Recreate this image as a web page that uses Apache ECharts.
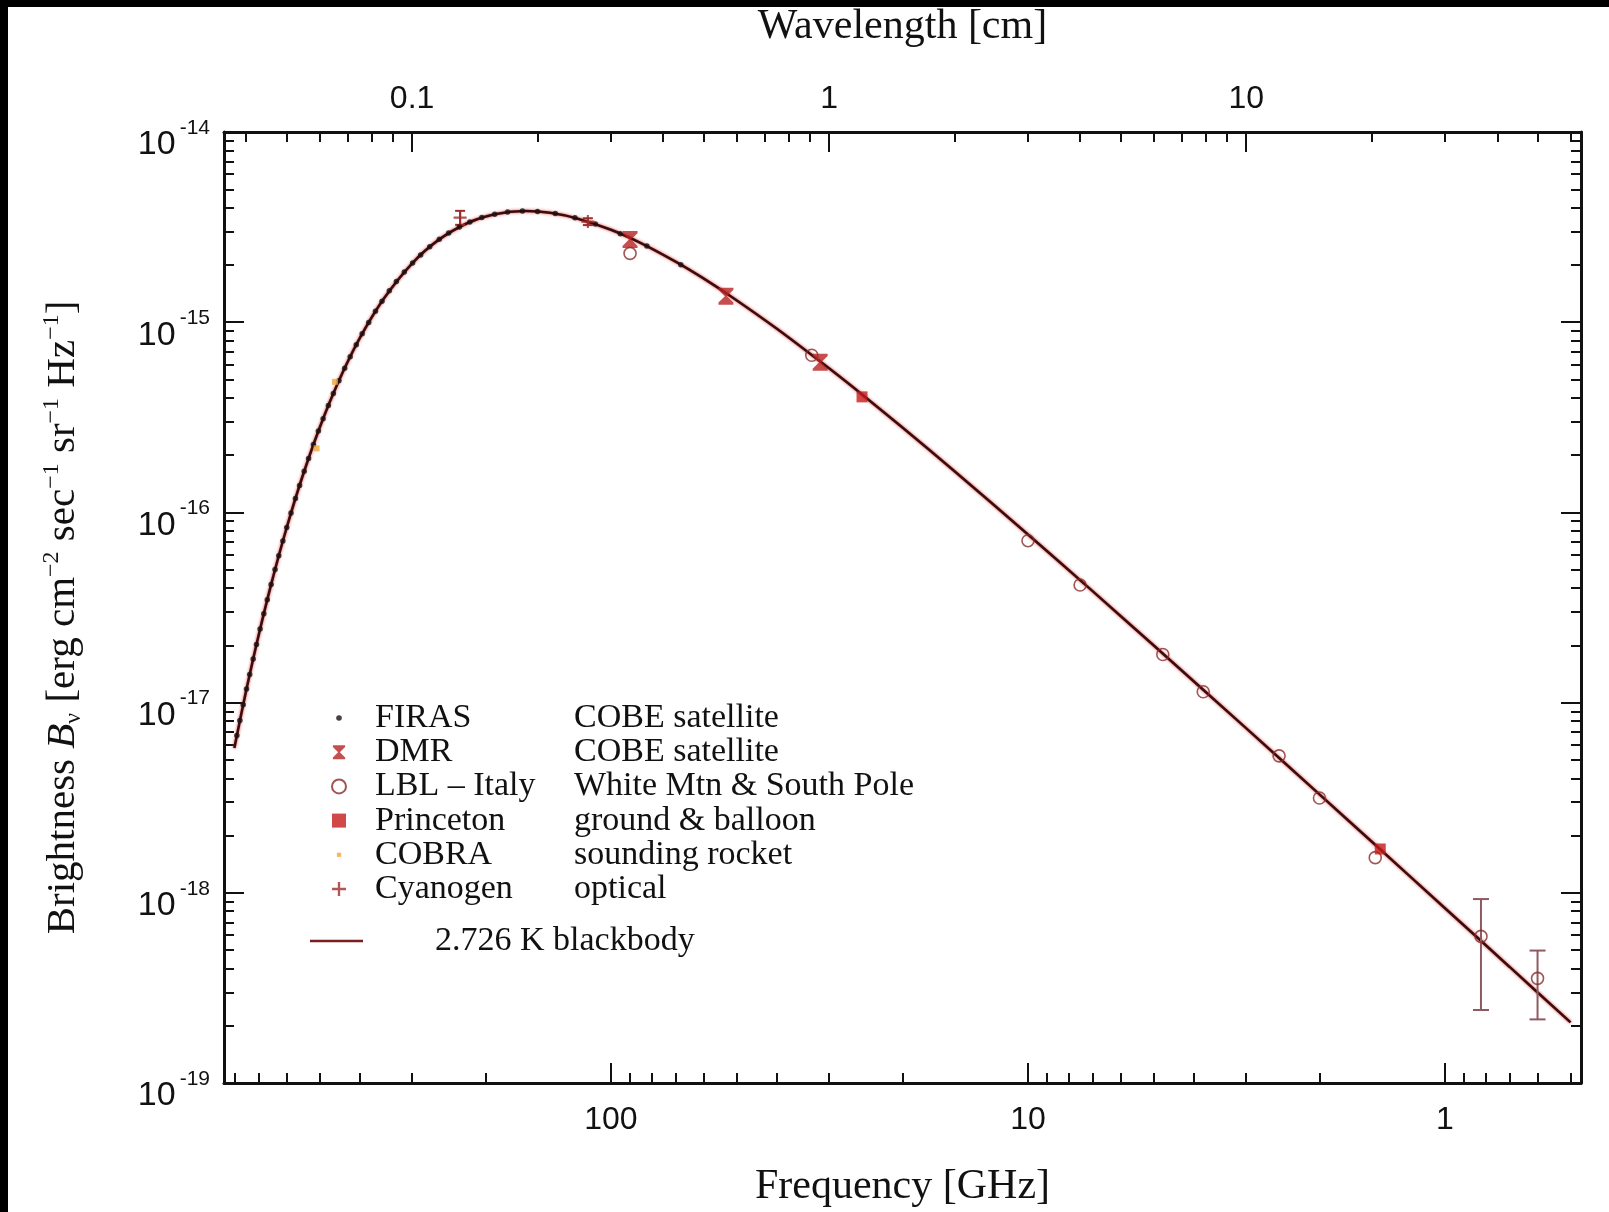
<!DOCTYPE html>
<html>
<head>
<meta charset="utf-8">
<title>Cosmic Microwave Background spectrum</title>
<script src="https://cdn.jsdelivr.net/npm/echarts@6/dist/echarts.min.js"></script>
<style>
  html, body { margin: 0; padding: 0; background: #000; width: 1609px; height: 1212px; overflow: hidden; }
  #chart { position: absolute; left: 8px; top: 7px; width: 1601px; height: 1205px; background: #fff; }
</style>
</head>
<body>
<div id="chart"></div>
<script>
// ---- measurements: frequency in GHz, brightness in erg cm^-2 s^-1 sr^-1 Hz^-1 ----
const firasFreq = [68, 82, 95, 109, 122, 136, 150, 163, 177, 190, 204, 218, 231, 245, 258, 272, 286, 299,
  313, 327, 340, 354, 367, 381, 395, 408, 422, 435, 449, 463, 476, 490, 503, 517, 531, 544, 558, 571,
  585, 599, 612, 626, 639, 653, 667, 680, 694, 708, 721, 735, 748, 762, 776, 789];
const firasB = [2.006e-15, 2.512e-15, 2.922e-15, 3.285e-15, 3.537e-15, 3.724e-15, 3.821e-15, 3.840e-15,
  3.793e-15, 3.696e-15, 3.548e-15, 3.362e-15, 3.167e-15, 2.943e-15, 2.726e-15, 2.490e-15, 2.259e-15,
  2.050e-15, 1.835e-15, 1.635e-15, 1.462e-15, 1.288e-15, 1.141e-15, 9.974e-16, 8.687e-16, 7.611e-16,
  6.582e-16, 5.734e-16, 4.928e-16, 4.221e-16, 3.648e-16, 3.111e-16, 2.677e-16, 2.272e-16, 1.923e-16,
  1.645e-16, 1.387e-16, 1.182e-16, 9.94e-17, 8.34e-17, 7.07e-17, 5.92e-17, 5.006e-17, 4.175e-17,
  3.477e-17, 2.931e-17, 2.435e-17, 2.02e-17, 1.697e-17, 1.405e-17, 1.178e-17, 9.74e-18, 8.04e-18, 6.72e-18];

const dmrFreq = [31.5, 53, 90];
const dmrB = [6.15e-16, 1.37e-15, 2.72e-15];

const lblFreq = [90, 33, 10, 7.5, 4.75, 3.8, 2.5, 2.0, 1.47, 0.82, 0.60];
const lblB = [2.3e-15, 6.7e-16, 7.1e-17, 4.15e-17, 1.79e-17, 1.14e-17, 5.25e-18, 3.15e-18, 1.53e-18, 5.9e-19, 3.55e-19];
const lblErrFreq = [0.82, 0.60];
const lblErrHigh = [9.27e-19, 4.97e-19];
const lblErrLow = [2.42e-19, 2.16e-19];

const princetonFreq = [25, 1.43];
const princetonB = [4.05e-16, 1.70e-18];

const cobraFreq = [508, 459];
const cobraB = [2.17e-16, 4.86e-16];

const cyanogenFreq = [230, 113.6];
const cyanogenB = [3.55e-15, 3.38e-15];
const cyanogenErrHigh = [3.85e-15, 3.52e-15];
const cyanogenErrLow = [3.25e-15, 3.24e-15];

// 2.726 K blackbody curve
const bbFreq = [0.5, 0.7, 1, 1.5, 2, 3, 5, 7, 10, 15, 20, 25, 30, 40, 50, 60, 70, 85, 100, 120, 140,
  160, 190, 220, 260, 300, 350, 400, 450, 500, 550, 600, 650, 700, 750, 800];
const bbB = [2.084e-19, 4.077e-19, 8.30e-19, 1.860e-18, 3.291e-18, 7.34e-18, 2.002e-17, 3.855e-17,
  7.66e-17, 1.646e-16, 2.794e-16, 4.17e-16, 5.72e-16, 9.23e-16, 1.305e-15, 1.698e-15, 2.081e-15,
  2.613e-15, 3.062e-15, 3.503e-15, 3.760e-15, 3.840e-15, 3.696e-15, 3.333e-15, 2.692e-15, 2.034e-15,
  1.335e-15, 8.26e-16, 4.874e-16, 2.772e-16, 1.530e-16, 8.23e-17, 4.34e-17, 2.248e-17, 1.147e-17,
  5.77e-18];

// legend texts
const sourceNames = ['FIRAS', 'DMR', 'LBL \u2013 Italy', 'Princeton', 'COBRA', 'Cyanogen'];
const sourceNotes = ['COBE satellite', 'COBE satellite', 'White Mtn & South Pole', 'ground & balloon', 'sounding rocket', 'optical'];
const curveName = '2.726 K blackbody';

// axis ranges and ticks
const F_MIN = 0.472, F_MAX = 847;
const B_MIN = 1e-19, B_MAX = 1e-14;
const freqMajor = [1, 10, 100];
const freqMinor = [0.5, 0.6, 0.7, 0.8, 0.9, 2, 3, 4, 5, 6, 7, 8, 9, 20, 30, 40, 50, 60, 70, 80, 90,
  200, 300, 400, 500, 600, 700, 800];
const wlMajor = [0.1, 1, 10];               // cm
const wlMinor = [0.04, 0.05, 0.06, 0.07, 0.08, 0.09, 0.2, 0.3, 0.4, 0.5, 0.6, 0.7, 0.8, 0.9,
  2, 3, 4, 5, 6, 7, 8, 9, 20, 30, 40, 50, 60];
const bDecades = [-19, -18, -17, -16, -15, -14];
const C_CM_GHZ = 29.9792458;                // speed of light, cm * GHz

// ---- helpers ----
const zip = (a, b) => a.map((v, i) => [v, b[i]]);
const bMajor = bDecades.map(e => Math.pow(10, e));
const bMinor = [];
bDecades.slice(0, -1).forEach(e => { for (let k = 2; k <= 9; k++) bMinor.push(k * Math.pow(10, e)); });
const wlToFreq = l => C_CM_GHZ / l;

const INK = '#111';
const SANS = '"Liberation Sans", Arial, sans-serif';
const SERIF = '"Liberation Serif", "Times New Roman", serif';

function tickAxis(opts) {
  const { position, ticks, len, line, label } = opts;
  const isX = position === 'top' || position === 'bottom';
  const ax = {
    type: 'log',
    logBase: 10,
    gridIndex: 0,
    position: position,
    min: isX ? F_MIN : B_MIN,
    max: isX ? F_MAX : B_MAX,
    inverse: isX,
    splitLine: { show: false },
    minorTick: { show: false },
    axisLine: { show: !!line, onZero: false, lineStyle: { color: INK, width: 3 } },
    axisTick: { show: true, inside: true, length: len, customValues: ticks, lineStyle: { color: INK, width: 2 } },
    axisLabel: { show: false },
    silent: true
  };
  if (label) ax.axisLabel = Object.assign({ show: true, customValues: ticks }, label);
  return Object.assign(ax, opts.extra || {});
}

const titleStyle = { fontFamily: SERIF, fontSize: 42, color: INK };

const xAxes = [
  tickAxis({
    position: 'bottom', ticks: freqMajor, len: 20, line: true,
    label: { formatter: v => String(v), margin: 21, fontFamily: SANS, fontSize: 32, color: INK },
    extra: { name: 'Frequency [GHz]', nameLocation: 'middle', nameGap: 83, nameTextStyle: titleStyle }
  }),
  tickAxis({ position: 'bottom', ticks: freqMinor, len: 10 }),
  tickAxis({
    position: 'top', ticks: wlMajor.map(wlToFreq), len: 20, line: true,
    label: { formatter: v => String(Number((C_CM_GHZ / v).toPrecision(1))), margin: 17, fontFamily: SANS, fontSize: 32, color: INK },
    extra: { name: 'Wavelength [cm]', nameLocation: 'middle', nameGap: 84, nameTextStyle: titleStyle }
  }),
  tickAxis({ position: 'top', ticks: wlMinor.map(wlToFreq), len: 10 })
];

const yAxes = [
  tickAxis({
    position: 'left', ticks: bMajor, len: 20, line: true,
    label: {
      margin: 14,
      padding: [10, 0, 0, 0],
      formatter: v => '{b|10}{s|' + Math.round(Math.log10(v)) + '}',
      rich: {
        b: { fontFamily: SANS, fontSize: 34, color: INK, lineHeight: 26, padding: [16, 0, 0, 0] },
        s: { fontFamily: SANS, fontSize: 21, color: INK, lineHeight: 18, padding: [3, 0, 21, 4] }
      }
    },
    extra: {
      name: '{t|Brightness }{i|B}{sub|\u03bd}{t| [erg cm}{sup|\u22122}{t| sec}{sup|\u22121}{t| sr}{sup|\u22121}{t| Hz}{sup|\u22121}{t|]}',
      nameLocation: 'middle', nameRotate: 90, nameGap: 138,
      nameTextStyle: {
        fontFamily: SERIF, fontSize: 41, color: INK, lineHeight: 46, padding: [0, 20, 0, 0],
        rich: {
          t: { fontFamily: SERIF, fontSize: 41, color: INK, lineHeight: 46 },
          i: { fontFamily: SERIF, fontSize: 41, fontStyle: 'italic', color: INK, lineHeight: 46 },
          sub: { fontFamily: SERIF, fontSize: 24, color: INK, lineHeight: 26, verticalAlign: 'bottom' },
          sup: { fontFamily: SERIF, fontSize: 24, color: INK, lineHeight: 26, verticalAlign: 'top' }
        }
      }
    }
  }),
  tickAxis({ position: 'left', ticks: bMinor, len: 10 }),
  tickAxis({ position: 'right', ticks: bMajor, len: 20, line: true }),
  tickAxis({ position: 'right', ticks: bMinor, len: 10 })
];

// marker shapes
const hourglass = 'path://M0,0 L14,0 L14,2 L8,8 L14,14 L14,16 L0,16 L0,14 L6,8 L0,2 Z';
const plusMark = 'path://M5,0 H7 V5 H12 V7 H7 V12 H5 V7 H0 V5 H5 Z';
const smallDotIcon = 'path://M0,0 M20,20 M14,10 A4,4 0 1 1 6,10 A4,4 0 1 1 14,10 Z';
const smallSquareIcon = 'path://M0,0 M20,20 M7,7 H13 V13 H7 Z';
const lineIcon = 'path://M0,0 H53 V2.6 H0 Z';

const errorBars = zip(lblErrFreq, lblErrLow).map((p, i) => [p[0], p[1], lblErrHigh[i], 0])
  .concat(zip(cyanogenFreq, cyanogenErrLow).map((p, i) => [p[0], p[1], cyanogenErrHigh[i], 1]));

function renderErrorBar(params, api) {
  const f = api.value(0);
  const top = api.coord([f, api.value(2)]);
  const bot = api.coord([f, api.value(1)]);
  const wide = api.value(3) === 0;
  const cap = wide ? 8 : 5;
  const style = { stroke: wide ? '#8c5a60' : '#a02a2a', lineWidth: 2 };
  return {
    type: 'group',
    children: [
      { type: 'line', shape: { x1: top[0], y1: top[1], x2: bot[0], y2: bot[1] }, style: style },
      { type: 'line', shape: { x1: top[0] - cap, y1: top[1], x2: top[0] + cap, y2: top[1] }, style: style },
      { type: 'line', shape: { x1: bot[0] - cap, y1: bot[1], x2: bot[0] + cap, y2: bot[1] }, style: style }
    ]
  };
}

const legendTextRich = {
  a: { fontFamily: SERIF, fontSize: 34, color: INK, width: 199, lineHeight: 30 },
  b: { fontFamily: SERIF, fontSize: 34, color: INK, lineHeight: 30 }
};

const option = {
  animation: false,
  backgroundColor: '#fff',
  grid: { left: 216, top: 125, width: 1357, height: 951, outerBoundsMode: 'none', containLabel: false },
  xAxis: xAxes,
  yAxis: yAxes,
  legend: [
    {
      data: [
        { name: sourceNames[0], icon: smallDotIcon },
        { name: sourceNames[1] },
        { name: sourceNames[2] },
        { name: sourceNames[3] },
        { name: sourceNames[4], icon: smallSquareIcon },
        { name: sourceNames[5] }
      ],
      orient: 'vertical', left: 318, top: 689,
      itemWidth: 14, itemHeight: 14, itemGap: 0.2,
      selectedMode: false,
      formatter: n => '{a|' + n + '}{b|' + sourceNotes[sourceNames.indexOf(n)] + '}',
      textStyle: { fontFamily: SERIF, fontSize: 34, color: INK, lineHeight: 30, padding: [0, 0, 0, 24], rich: legendTextRich }
    },
    {
      data: [{ name: curveName, icon: lineIcon }],
      orient: 'vertical', left: 297, top: 912,
      itemWidth: 53, itemHeight: 14,
      selectedMode: false,
      textStyle: { fontFamily: SERIF, fontSize: 34, color: INK, lineHeight: 30, padding: [0, 0, 0, 67] }
    }
  ],
  series: [
    {
      name: curveName, type: 'line', xAxisIndex: 0, yAxisIndex: 0,
      data: zip(bbFreq, bbB), symbol: 'none', smooth: 0.3,
      lineStyle: { color: '#3b0c0c', width: 2.6, shadowColor: 'rgba(215,40,40,0.9)', shadowBlur: 3 },
      itemStyle: { color: '#7a1f1f' },
      z: 2
    },
    {
      name: sourceNames[0], type: 'scatter', xAxisIndex: 0, yAxisIndex: 0,
      data: zip(firasFreq, firasB), symbol: 'circle', symbolSize: 5.5,
      itemStyle: { color: '#1a1010' }, z: 3
    },
    {
      name: sourceNames[4], type: 'scatter', xAxisIndex: 0, yAxisIndex: 0,
      data: zip(cobraFreq, cobraB), symbol: 'rect', symbolSize: 6,
      itemStyle: { color: '#f0a63a' }, z: 3
    },
    {
      type: 'custom', xAxisIndex: 0, yAxisIndex: 0,
      data: errorBars, encode: { x: 0, y: [1, 2] },
      renderItem: renderErrorBar, z: 3, silent: true
    },
    {
      name: sourceNames[2], type: 'scatter', xAxisIndex: 0, yAxisIndex: 0,
      data: zip(lblFreq, lblB), symbol: 'circle', symbolSize: 12,
      itemStyle: { color: 'rgba(0,0,0,0)', borderColor: '#8a2a2a', borderWidth: 1.6 }, z: 4
    },
    {
      name: sourceNames[3], type: 'scatter', xAxisIndex: 0, yAxisIndex: 0,
      data: zip(princetonFreq, princetonB), symbol: 'rect', symbolSize: 11,
      itemStyle: { color: '#c41a1a' }, z: 4
    },
    {
      name: sourceNames[1], type: 'scatter', xAxisIndex: 0, yAxisIndex: 0,
      data: zip(dmrFreq, dmrB), symbol: hourglass, symbolSize: [15, 17],
      itemStyle: { color: '#b82222' }, z: 5
    },
    {
      name: sourceNames[5], type: 'scatter', xAxisIndex: 0, yAxisIndex: 0,
      data: zip(cyanogenFreq, cyanogenB), symbol: plusMark, symbolSize: 13,
      itemStyle: { color: '#a02a2a' }, z: 5
    }
  ]
};

const chart = echarts.init(document.getElementById('chart'), null, { renderer: 'canvas' });
chart.setOption(option);
</script>
</body>
</html>
